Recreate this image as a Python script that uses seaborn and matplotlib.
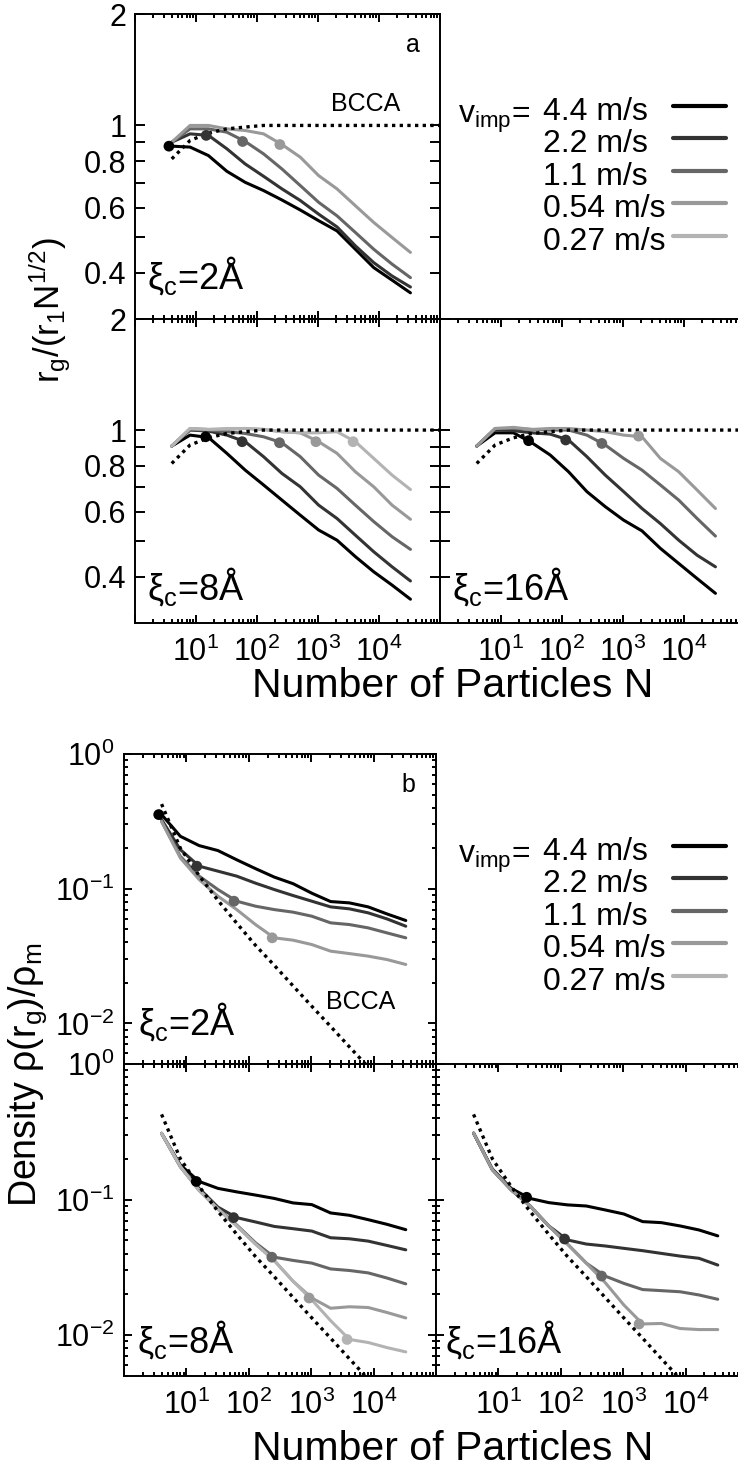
import matplotlib
matplotlib.use('Agg')
import matplotlib.pyplot as plt
from matplotlib.ticker import FixedLocator, FixedFormatter, LogLocator, NullFormatter, NullLocator
from matplotlib.lines import Line2D
import seaborn as sns
import numpy as np

sns.set_style('ticks')
plt.rcParams['font.family'] = ['Liberation Sans', 'DejaVu Sans']
plt.rcParams['mathtext.fontset'] = 'custom'
plt.rcParams['mathtext.rm'] = 'Liberation Sans'
plt.rcParams['mathtext.it'] = 'Liberation Sans:italic'
plt.rcParams['mathtext.bf'] = 'Liberation Sans:bold'
plt.rcParams['mathtext.default'] = 'rm'
for k in ['text.color', 'axes.labelcolor', 'xtick.color', 'ytick.color', 'axes.edgecolor']:
    plt.rcParams[k] = 'black'

# cluster sizes (number of particles)
N = [4, 8, 16, 32, 64, 128, 256, 512, 1024, 2048, 4096, 8192, 16384, 32768]
labels = ['4.4 m/s', '2.2 m/s', '1.1 m/s', '0.54 m/s', '0.27 m/s']
colors = ['#000000', '#333333', '#666666', '#999999', '#b3b3b3']

# panel a: r_g / (r_1 N^1/2)
rg_xi2 = [
    [0.879, 0.874, 0.829, 0.752, 0.702, 0.667, 0.629, 0.591, 0.553, 0.519, 0.463, 0.413, 0.382, 0.353],
    [0.901, 0.949, 0.940, 0.865, 0.787, 0.729, 0.674, 0.627, 0.576, 0.532, 0.473, 0.426, 0.392, 0.366],
    [0.901, 0.979, 0.979, 0.959, 0.905, 0.838, 0.763, 0.688, 0.620, 0.570, 0.514, 0.463, 0.422, 0.388],
    [0.901, 1.000, 1.000, 0.979, 0.969, 0.949, 0.888, 0.821, 0.732, 0.674, 0.607, 0.547, 0.498, 0.454],
]
rg_xi8 = [
    [0.905, 0.969, 0.955, 0.865, 0.779, 0.710, 0.646, 0.588, 0.536, 0.503, 0.454, 0.413, 0.380, 0.348],
    [0.905, 1.000, 0.994, 0.969, 0.930, 0.847, 0.763, 0.702, 0.626, 0.576, 0.519, 0.468, 0.426, 0.390],
    [0.905, 1.004, 1.000, 0.990, 0.979, 0.959, 0.924, 0.847, 0.755, 0.695, 0.626, 0.565, 0.514, 0.475],
    [0.905, 1.010, 1.004, 1.004, 1.010, 1.004, 0.990, 0.983, 0.930, 0.865, 0.771, 0.702, 0.626, 0.573],
    [0.905, 1.010, 1.004, 1.010, 1.010, 1.004, 0.990, 0.983, 0.983, 0.990, 0.930, 0.838, 0.755, 0.690],
]
rg_xi16 = [
    [0.905, 0.983, 0.983, 0.924, 0.856, 0.771, 0.681, 0.620, 0.570, 0.533, 0.478, 0.435, 0.396, 0.361],
    [0.905, 1.004, 0.996, 0.983, 0.975, 0.940, 0.847, 0.755, 0.681, 0.613, 0.558, 0.503, 0.458, 0.426],
    [0.905, 1.010, 1.010, 1.004, 1.000, 1.000, 0.969, 0.911, 0.838, 0.779, 0.710, 0.646, 0.576, 0.516],
    [0.905, 1.010, 1.017, 1.004, 1.010, 1.010, 1.000, 0.990, 0.969, 0.959, 0.838, 0.771, 0.688, 0.613],
]
bcca_rg_n = [4, 8, 16, 32, 64, 128, 100000]
bcca_rg = [0.812, 0.911, 0.953, 0.979, 0.990, 1.0, 1.0]

# panel b: density rho(r_g)/rho_m
rho_xi2 = [
    [0.355, 0.245, 0.209, 0.192, 0.164, 0.141, 0.122, 0.109, 0.0926, 0.0803, 0.0785, 0.0733, 0.0650, 0.0581],
    [0.326, 0.195, 0.147, 0.135, 0.124, 0.110, 0.0986, 0.0890, 0.0808, 0.0733, 0.0709, 0.0662, 0.0597, 0.0527],
    [0.316, 0.174, 0.124, 0.0986, 0.0808, 0.0742, 0.070, 0.067, 0.0625, 0.0558, 0.0542, 0.0512, 0.047, 0.0432],
    [0.316, 0.169, 0.117, 0.088, 0.070, 0.0542, 0.0432, 0.0415, 0.0385, 0.0344, 0.033, 0.0316, 0.0298, 0.0274],
]
rho_xi8 = [
    [0.308, 0.180, 0.136, 0.121, 0.114, 0.108, 0.102, 0.0945, 0.0918, 0.0797, 0.0766, 0.0711, 0.0657, 0.060],
    [0.308, 0.175, 0.121, 0.088, 0.0736, 0.0684, 0.0634, 0.061, 0.0586, 0.0523, 0.0514, 0.0494, 0.0459, 0.0426],
    [0.308, 0.175, 0.117, 0.086, 0.065, 0.048, 0.0376, 0.0356, 0.034, 0.0308, 0.030, 0.0288, 0.0264, 0.0239],
    [0.308, 0.175, 0.117, 0.085, 0.064, 0.047, 0.0355, 0.025, 0.0188, 0.0158, 0.0162, 0.016, 0.0147, 0.0134],
    [0.308, 0.175, 0.117, 0.085, 0.064, 0.047, 0.0355, 0.025, 0.0182, 0.0128, 0.0093, 0.00883, 0.0081, 0.00753],
]
rho_xi16 = [
    [0.309, 0.168, 0.121, 0.102, 0.095, 0.0914, 0.0897, 0.0839, 0.0783, 0.0688, 0.0676, 0.0639, 0.0597, 0.054],
    [0.309, 0.166, 0.118, 0.090, 0.064, 0.0504, 0.047, 0.0455, 0.0437, 0.042, 0.0401, 0.0383, 0.0369, 0.0329],
    [0.309, 0.166, 0.118, 0.090, 0.064, 0.047, 0.034, 0.0273, 0.0241, 0.0217, 0.0213, 0.0209, 0.0198, 0.0184],
    [0.309, 0.166, 0.118, 0.090, 0.064, 0.047, 0.034, 0.0245, 0.0167, 0.0121, 0.0122, 0.0112, 0.0110, 0.0110],
]
bcca_rho_n = [4, 8, 16, 32, 64, 128, 256, 512, 1024, 2048, 4096, 8192]
bcca_rho = [0.425, 0.20, 0.125, 0.082, 0.0555, 0.038, 0.027, 0.019, 0.0134, 0.0095, 0.0067, 0.00475]

# restructuring onset (filled circles)
mark_n_xi2 = [3.6, 14.7, 58, 237]
mark_n_xi8 = [14.4, 57, 234, 925, 3760]
mark_n_xi16 = [28.3, 115, 450, 1800]
mark_rg_xi2 = [0.879, 0.940, 0.905, 0.888]
mark_rg_xi8 = [0.959, 0.930, 0.924, 0.930, 0.930]
mark_rg_xi16 = [0.936, 0.940, 0.920, 0.963]
mark_rho_xi2 = [0.355, 0.147, 0.0808, 0.0432]
mark_rho_xi8 = [0.136, 0.0736, 0.0376, 0.0188, 0.0093]
mark_rho_xi16 = [0.104, 0.0512, 0.0273, 0.0121]

W, H = 738, 1469
fig = plt.figure(figsize=(W / 100, H / 100), dpi=100)


def add_ax(x0, y0, x1, y1):
    return fig.add_axes([x0 / W, 1 - y1 / H, (x1 - x0) / W, (y1 - y0) / H])


def draw(ax, curves, mk_n, mk_y, bc_n, bc_y):
    for i, ys in enumerate(curves):
        sns.lineplot(x=N, y=ys, color=colors[i], linewidth=2.2, ax=ax, zorder=2)
    sns.lineplot(x=bc_n, y=bc_y, color='black', linewidth=2.4, ax=ax,
                 linestyle=(0, (1, 1.3)), zorder=2.5)
    sns.scatterplot(x=mk_n, y=mk_y, hue=labels[:len(mk_n)], palette=colors[:len(mk_n)],
                    s=60, linewidth=0, legend=False, ax=ax, zorder=3)
    ax.set_xlabel('')
    ax.set_ylabel('')


def style(ax, kind, xlab, ylab, right=True):
    ax.set_xscale('log')
    ax.set_yscale('log')
    ax.set_xlim(1, 1e5)
    ax.xaxis.set_major_locator(FixedLocator([1, 10, 100, 1e3, 1e4, 1e5]))
    ax.xaxis.set_major_formatter(FixedFormatter(['', '$10^{1}$', '$10^{2}$', '$10^{3}$', '$10^{4}$', '']))
    ax.xaxis.set_minor_locator(LogLocator(base=10, subs=np.arange(2, 10), numticks=30))
    ax.xaxis.set_minor_formatter(NullFormatter())
    if kind == 'a':
        ax.set_ylim(0.3, 2)
        ax.yaxis.set_major_locator(FixedLocator([0.4, 0.5, 0.6, 0.7, 0.8, 0.9, 1, 2]))
        ax.yaxis.set_major_formatter(FixedFormatter(['0.4', '', '0.6', '', '0.8', '', '1', '2']))
        ax.yaxis.set_minor_locator(NullLocator())
        ax.tick_params(axis='y', which='major', length=7, pad=6)
    else:
        ax.set_ylim(0.005, 1)
        ax.yaxis.set_major_locator(FixedLocator([0.01, 0.1, 1]))
        ax.yaxis.set_major_formatter(FixedFormatter(['$10^{-2}$', '$10^{-1}$', '$10^{0}$']))
        ax.yaxis.set_minor_locator(LogLocator(base=10, subs=np.arange(2, 10), numticks=30))
        ax.yaxis.set_minor_formatter(NullFormatter())
        ax.tick_params(axis='y', which='major', length=6, pad=7)
    ax.tick_params(which='both', direction='in', top=True, right=right, width=1.4,
                   labelsize=22, labelbottom=xlab, labelleft=ylab)
    ax.tick_params(axis='x', which='major', length=6, pad=10)
    ax.tick_params(which='minor', length=3)
    for sp in ax.spines.values():
        sp.set_linewidth(1.4)


a_tl = add_ax(135, 14, 440, 319)
a_bl = add_ax(135, 319, 440, 623)
a_br = add_ax(440, 319, 745, 623)
b_tl = add_ax(124, 754, 436, 1064)
b_bl = add_ax(124, 1064, 436, 1376)
b_br = add_ax(436, 1064, 748, 1376)

draw(a_tl, rg_xi2, mark_n_xi2, mark_rg_xi2, bcca_rg_n, bcca_rg)
draw(a_bl, rg_xi8, mark_n_xi8, mark_rg_xi8, bcca_rg_n, bcca_rg)
draw(a_br, rg_xi16, mark_n_xi16, mark_rg_xi16, bcca_rg_n, bcca_rg)
draw(b_tl, rho_xi2, mark_n_xi2, mark_rho_xi2, bcca_rho_n, bcca_rho)
draw(b_bl, rho_xi8, mark_n_xi8, mark_rho_xi8, bcca_rho_n, bcca_rho)
draw(b_br, rho_xi16, mark_n_xi16, mark_rho_xi16, bcca_rho_n, bcca_rho)

style(a_tl, 'a', False, True)
style(a_bl, 'a', True, True)
style(a_br, 'a', True, False, right=False)
style(b_tl, 'b', False, True)
style(b_bl, 'b', True, True)
style(b_br, 'b', True, False, right=False)

# panel annotations
xi_fs = 26
a_tl.text(0.04, 0.10, 'ξ$_c$=2Å', transform=a_tl.transAxes, fontsize=xi_fs, va='baseline')
a_bl.text(0.04, 0.076, 'ξ$_c$=8Å', transform=a_bl.transAxes, fontsize=xi_fs, va='baseline')
a_br.text(0.04, 0.076, 'ξ$_c$=16Å', transform=a_br.transAxes, fontsize=xi_fs, va='baseline')
b_tl.text(0.045, 0.094, 'ξ$_c$=2Å', transform=b_tl.transAxes, fontsize=xi_fs, va='baseline')
b_bl.text(0.042, 0.074, 'ξ$_c$=8Å', transform=b_bl.transAxes, fontsize=xi_fs, va='baseline')
b_br.text(0.03, 0.074, 'ξ$_c$=16Å', transform=b_br.transAxes, fontsize=xi_fs, va='baseline')

a_tl.text(0.91, 0.90, 'a', transform=a_tl.transAxes, fontsize=18, ha='center', va='center')
b_tl.text(0.91, 0.90, 'b', transform=b_tl.transAxes, fontsize=18, ha='center', va='center')
a_tl.text(0.757, 0.705, 'BCCA', transform=a_tl.transAxes, fontsize=18, ha='center', va='center')
b_tl.text(0.759, 0.20, 'BCCA', transform=b_tl.transAxes, fontsize=18, ha='center', va='center')

# axis labels
fig.text(453 / W, 1 - 686 / H, 'Number of Particles N', fontsize=29.5, ha='center', va='center')
fig.text(453 / W, 1 - 1449 / H, 'Number of Particles N', fontsize=29.5, ha='center', va='center')
fig.text(50 / W, 1 - 310 / H, 'r$_g$/(r$_1$N$^{1/2}$)', fontsize=25, rotation=90, ha='center', va='center')
fig.text(28 / W, 1 - 1075 / H, 'Density ρ(r$_g$)/ρ$_m$', fontsize=27, rotation=90, ha='center', va='center')

# legends: text column and line column packed the same way
handles = [Line2D([], [], color=c, linewidth=3) for c in colors]
blanks = [Line2D([], [], linestyle='none') for c in colors]
leg_kw = dict(loc='upper left', frameon=False, fontsize=23, labelspacing=0.077,
              borderpad=0, borderaxespad=0)
for shift in [0, 740]:
    fig.legend(blanks, labels, bbox_to_anchor=(543 / W, 1 - (97 + shift) / H),
               handlelength=0, handletextpad=0, **leg_kw)
    fig.legend(handles, [''] * len(labels), bbox_to_anchor=(673 / W, 1 - (94 + shift) / H),
               handlelength=1.66, handletextpad=0, **leg_kw)
    fig.text(530 / W, 1 - (122.7 + shift) / H, 'v$_{imp}$=', fontsize=23, ha='right', va='baseline')

fig.savefig('out.png', dpi=100)
